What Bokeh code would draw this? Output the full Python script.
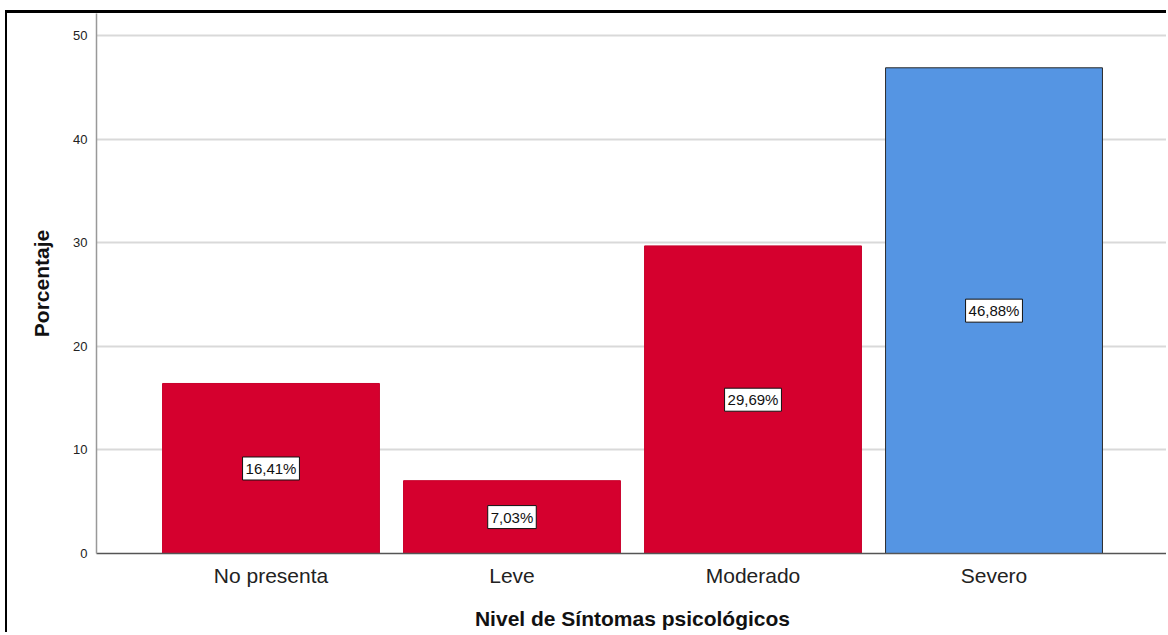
from bokeh.plotting import figure
from bokeh.models import FixedTicker, Label, ColumnDataSource
from bokeh.embed import file_html
from bokeh.resources import INLINE

categories = ["No presenta", "Leve", "Moderado", "Severo"]
values = [16.41, 7.03, 29.69, 46.88]
labels = ["16,41%", "7,03%", "29,69%", "46,88%"]
colors = ["#D5002E", "#D5002E", "#D5002E", "#5595E3"]
outline = ["#C8002B", "#C8002B", "#C8002B", "#2A2A2A"]
y_ticks = [0, 10, 20, 30, 40, 50]

xs = list(range(len(categories)))
src = ColumnDataSource(dict(x=xs, top=values, color=colors, line=outline))

p = figure(width=1161, height=622, output_backend="svg", toolbar_location=None,
           x_range=(-0.724, 3.724), y_range=(0, 52.12),
           min_border_left=89, min_border_right=0, min_border_top=0, min_border_bottom=82)
p.styles = {"border-top": "3px solid black", "border-left": "2px solid black",
            "margin-top": "10px", "margin-left": "5px"}
p.outline_line_color = None
p.background_fill_color = "white"
p.border_fill_color = "white"

p.vbar(x="x", top="top", width=0.9, bottom=0, fill_color="color", line_color="line",
       line_width=1, source=src)

for xi, v, t in zip(xs, values, labels):
    p.add_layout(Label(x=xi, y=v / 2, text=t, text_align="center", text_baseline="middle",
                       text_font="Liberation Sans", text_font_size="15px", text_color="#111111",
                       background_fill_color="white", border_line_color="#111111",
                       border_line_width=1, padding=3))

p.xaxis.ticker = FixedTicker(ticks=xs)
p.xaxis.major_label_overrides = {i: c for i, c in zip(xs, categories)}
p.xaxis.major_label_text_font = "Liberation Sans"
p.xaxis.major_label_text_font_size = "21px"
p.xaxis.major_label_text_color = "#222222"
p.xaxis.major_label_standoff = 4
p.xaxis.axis_label = "Nivel de Síntomas psicológicos"
p.xaxis.axis_label_text_font = "Liberation Sans"
p.xaxis.axis_label_text_font_size = "21px"
p.xaxis.axis_label_text_font_style = "bold"
p.xaxis.axis_label_text_color = "#111111"
p.xaxis.axis_label_standoff = 17
p.xaxis.axis_line_color = "#555555"
p.xaxis.axis_line_width = 1.5
p.xaxis.major_tick_line_color = None
p.xaxis.minor_tick_line_color = None

p.yaxis.ticker = FixedTicker(ticks=y_ticks)
p.yaxis.major_label_text_font = "Liberation Sans"
p.yaxis.major_label_text_font_size = "13px"
p.yaxis.major_label_text_color = "#222222"
p.yaxis.major_label_standoff = 3
p.yaxis.axis_label = "Porcentaje"
p.yaxis.axis_label_text_font = "Liberation Sans"
p.yaxis.axis_label_text_font_size = "21px"
p.yaxis.axis_label_text_font_style = "bold"
p.yaxis.axis_label_text_color = "#111111"
p.yaxis.axis_label_standoff = 17
p.yaxis.axis_line_color = "#999999"
p.yaxis.axis_line_width = 1.5
p.yaxis.major_tick_line_color = None
p.yaxis.minor_tick_line_color = None

p.xgrid.grid_line_color = None
p.ygrid.ticker = FixedTicker(ticks=y_ticks[1:])
p.ygrid.grid_line_color = "#D9D9D9"
p.ygrid.grid_line_width = 2

open("out.html", "w").write(file_html(p, INLINE))
